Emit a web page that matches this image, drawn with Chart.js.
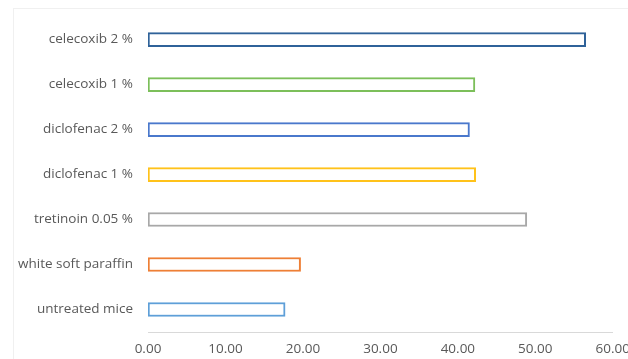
<!DOCTYPE html>
<html lang="en">
<head>
    <meta charset="UTF-8">
    <title>Bar chart</title>
    <script src="https://cdn.jsdelivr.net/npm/chart.js"></script>
    <style>
        html, body { margin: 0; padding: 0; background: #fff; overflow: hidden; }
        #wrap { position: relative; width: 628px; height: 359px; overflow: hidden; }
        #frame { position: absolute; left: 13px; top: 8px; right: 0; bottom: 0;
                 border-left: 1px solid #f0f0f0; border-top: 1px solid #f0f0f0; }
        canvas { position: absolute; left: 0; top: -6px; }
    </style>
</head>
<body>
<div id="wrap">
    <div id="frame"></div>
    <canvas id="grafica" width="639" height="365"></canvas>
</div>
<script>
// categories, top to bottom
const categorias = ['celecoxib 2 %', 'celecoxib 1 %', 'diclofenac 2 %', 'diclofenac 1 %',
                    'tretinoin 0.05 %', 'white soft paraffin', 'untreated mice'];
const valores = [56.5, 42.2, 41.5, 42.3, 48.9, 19.7, 17.7];
const colores = ['#2f6299', '#7cbf5a', '#4a78cc', '#ffc21a', '#a8a8a8', '#ee7f35', '#5e9fd8'];
const ticksX = [0, 10, 20, 30, 40, 50, 60];

new Chart(document.getElementById('grafica').getContext('2d'), {
    type: 'bar',
    data: {
        labels: categorias,
        datasets: [{
            data: valores,
            backgroundColor: '#ffffff',
            borderColor: colores,
            borderWidth: 2,
            borderSkipped: false,
            barThickness: 14
        }]
    },
    options: {
        indexAxis: 'y',
        responsive: false,
        animation: false,
        layout: { padding: { left: 0, right: 5, top: 11, bottom: 0 } },
        plugins: { legend: { display: false }, tooltip: { enabled: false } },
        scales: {
            x: {
                min: 0, max: 60,
                afterBuildTicks: ax => { ax.ticks = ticksX.map(v => ({ value: v })); },
                afterFit: ax => { ax.height = 27; },
                grid: { display: false, drawTicks: false },
                border: { display: true, color: '#d9d9d9', width: 1 },
                ticks: {
                    color: '#595959',
                    padding: 9,
                    maxRotation: 0,
                    font: { family: 'Open Sans', size: 13.5 },
                    callback: v => Number(v).toFixed(2)
                }
            },
            y: {
                afterFit: ax => { ax.width = 148; },
                grid: { display: false, drawTicks: false },
                border: { display: false },
                ticks: {
                    color: '#595959',
                    padding: 15,
                    font: { family: 'Open Sans', size: 13.5 }
                }
            }
        }
    }
});
</script>
</body>
</html>
